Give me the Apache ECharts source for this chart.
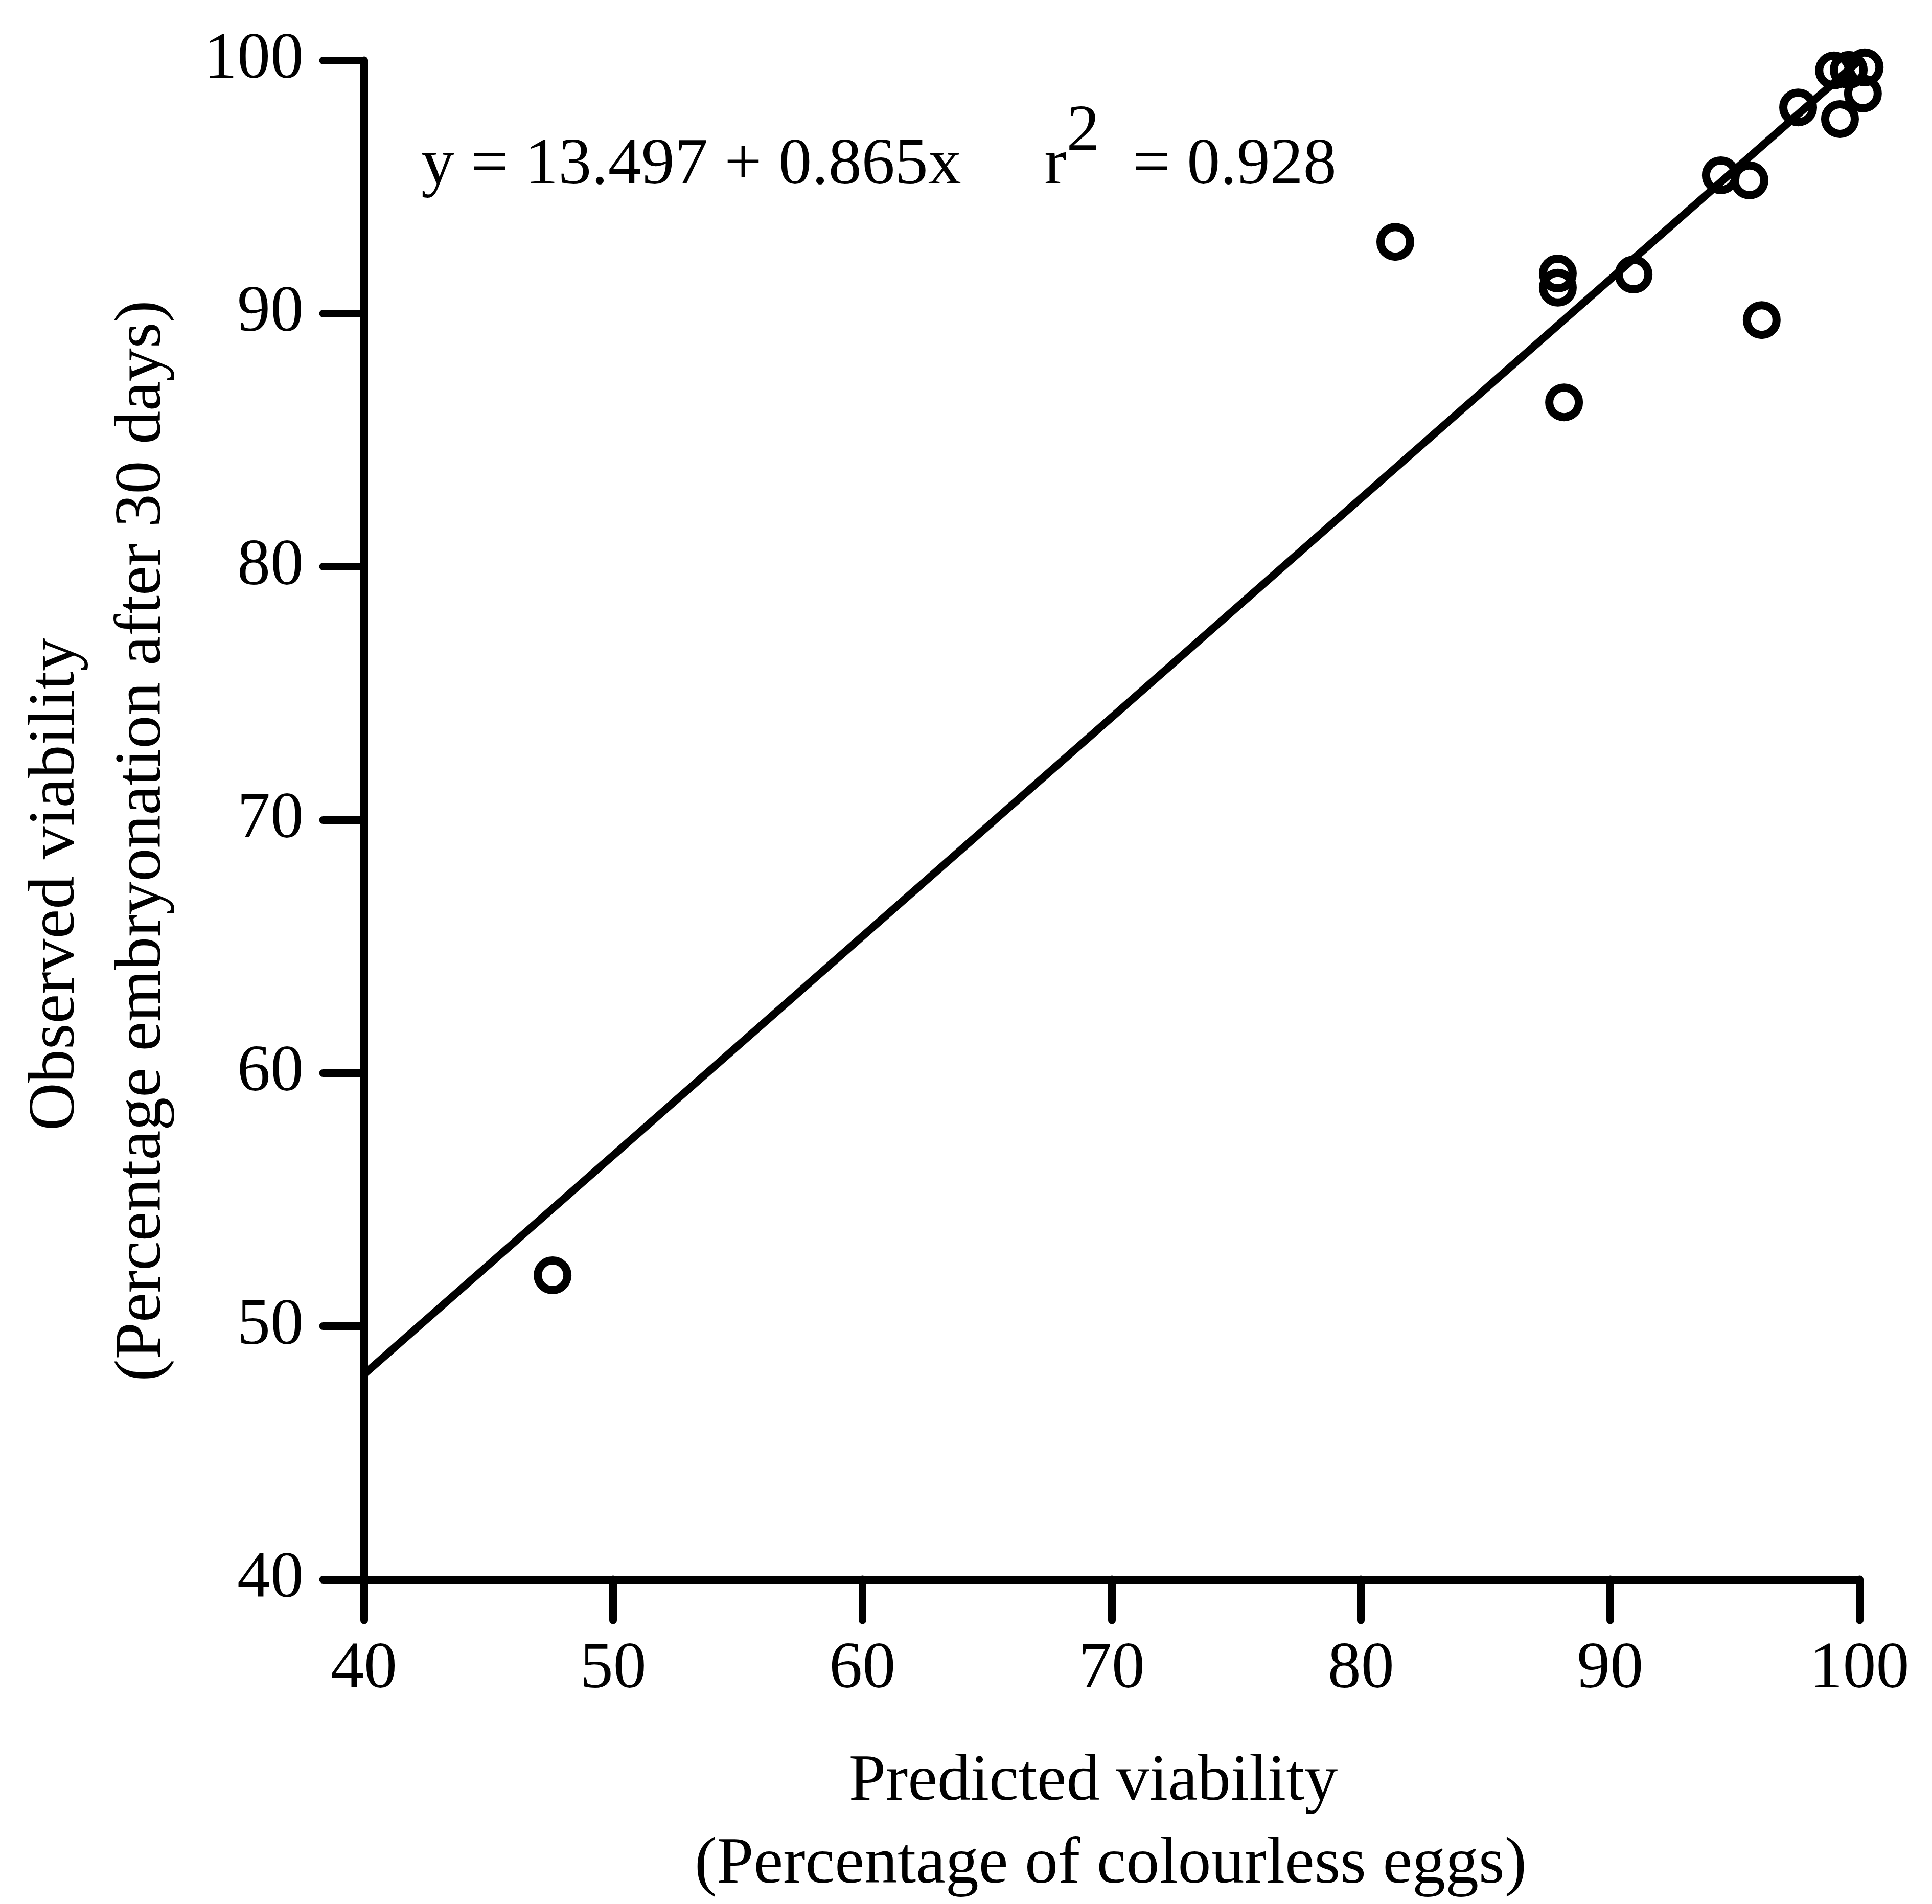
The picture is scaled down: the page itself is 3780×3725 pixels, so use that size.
<!DOCTYPE html>
<html>
<head>
<meta charset="utf-8">
<script src="https://cdn.jsdelivr.net/npm/echarts@6/dist/echarts.min.js"></script>
<style>
  html, body { margin: 0; padding: 0; background: #ffffff; }
  #chart { width: 3780px; height: 3725px; }
</style>
</head>
<body>
<div id="chart"></div>
<script>
// ---- Data ----
const predicted = [47.57, 81.38, 87.90, 87.90, 88.15, 90.94, 96.08, 94.44, 95.59, 97.54, 99.22, 100.14, 98.98, 99.57, 100.21];
const observed  = [52.01, 92.83, 91.58, 91.02, 86.49, 91.54, 89.74, 95.46, 95.26, 98.14, 97.68, 98.69, 99.60, 99.62, 99.72];

// Regression line end points (y = 13.497 + 0.865x), read at the ends of the drawn line
const fitX = [40, 100];
const fitY = [48.1, 100.0];

const xTicks = [40, 50, 60, 70, 80, 90, 100];
const yTicks = [40, 50, 60, 70, 80, 90, 100];

const xTitle = ['Predicted viability', '(Percentage of colourless eggs)'];
const yTitle = ['Observed viability', '(Percentage embryonation after 30 days)'];
const equationText = 'y = 13.497 + 0.865x';
const r2Text = '= 0.928';

// ---- Build chart ----
const FONT = 'Liberation Serif';
const FS = 130;
const chart = echarts.init(document.getElementById('chart'), null, { renderer: 'canvas' });

const scatterData = predicted.map((x, i) => [x, observed[i]]);
const fitData = fitX.map((x, i) => [x, fitY[i]]);

const axisCommon = {
  type: 'value',
  splitLine: { show: false },
  axisLine: { show: true, onZero: false, lineStyle: { color: '#000', width: 15, cap: 'round' } },
  axisTick: { show: true, inside: false, length: 80, lineStyle: { color: '#000', width: 15, cap: 'round' } },
  axisLabel: {
    show: true, color: '#000', fontFamily: FONT, fontSize: FS, margin: 112,
    showMinLabel: true, showMaxLabel: true
  }
};

const option = {
  backgroundColor: '#ffffff',
  animation: false,
  grid: { left: 712, right: 142, top: 118, bottom: 635, containLabel: false },
  xAxis: Object.assign({}, axisCommon, {
    min: xTicks[0], max: xTicks[xTicks.length - 1], interval: xTicks[1] - xTicks[0]
  }),
  yAxis: Object.assign({}, axisCommon, {
    min: yTicks[0], max: yTicks[yTicks.length - 1], interval: yTicks[1] - yTicks[0],
    axisLabel: Object.assign({}, axisCommon.axisLabel, { margin: 118 })
  }),
  series: [
    {
      type: 'scatter',
      data: scatterData,
      symbol: 'circle',
      symbolSize: 58,
      clip: false,
      itemStyle: { color: 'rgba(255,255,255,0)', borderColor: '#000', borderWidth: 16, opacity: 1 },
      emphasis: { disabled: true },
      z: 2
    },
    {
      type: 'line',
      data: fitData,
      symbol: 'none',
      clip: false,
      lineStyle: { color: '#000', width: 15, opacity: 1 },
      z: 3
    }
  ],
  graphic: [
    {
      type: 'text', x: 824, y: 195, z: 10,
      style: {
        text: '{a|' + equationText + '     r}{s|2}{a|  ' + r2Text + '}',
        fill: '#000', align: 'left', verticalAlign: 'top',
        rich: {
          a: { fontFamily: FONT, fontSize: FS, lineHeight: 260, fill: '#000' },
          s: { fontFamily: FONT, fontSize: FS, verticalAlign: 'top', fill: '#000' }
        }
      }
    },
    {
      type: 'text', x: 2139, y: 3487, z: 10,
      style: { text: xTitle[0], fill: '#000', fontFamily: FONT, fontSize: FS, align: 'center', verticalAlign: 'middle' }
    },
    {
      type: 'text', x: 2173, y: 3649, z: 10,
      style: { text: xTitle[1], fill: '#000', fontFamily: FONT, fontSize: FS, align: 'center', verticalAlign: 'middle' }
    },
    {
      type: 'text', x: 110, y: 1730, rotation: Math.PI / 2, z: 10,
      style: { text: yTitle[0], fill: '#000', fontFamily: FONT, fontSize: FS, align: 'center', verticalAlign: 'middle' }
    },
    {
      type: 'text', x: 279, y: 1645, rotation: Math.PI / 2, z: 10,
      style: { text: yTitle[1], fill: '#000', fontFamily: FONT, fontSize: FS, align: 'center', verticalAlign: 'middle' }
    }
  ]
};

chart.setOption(option);
</script>
</body>
</html>
